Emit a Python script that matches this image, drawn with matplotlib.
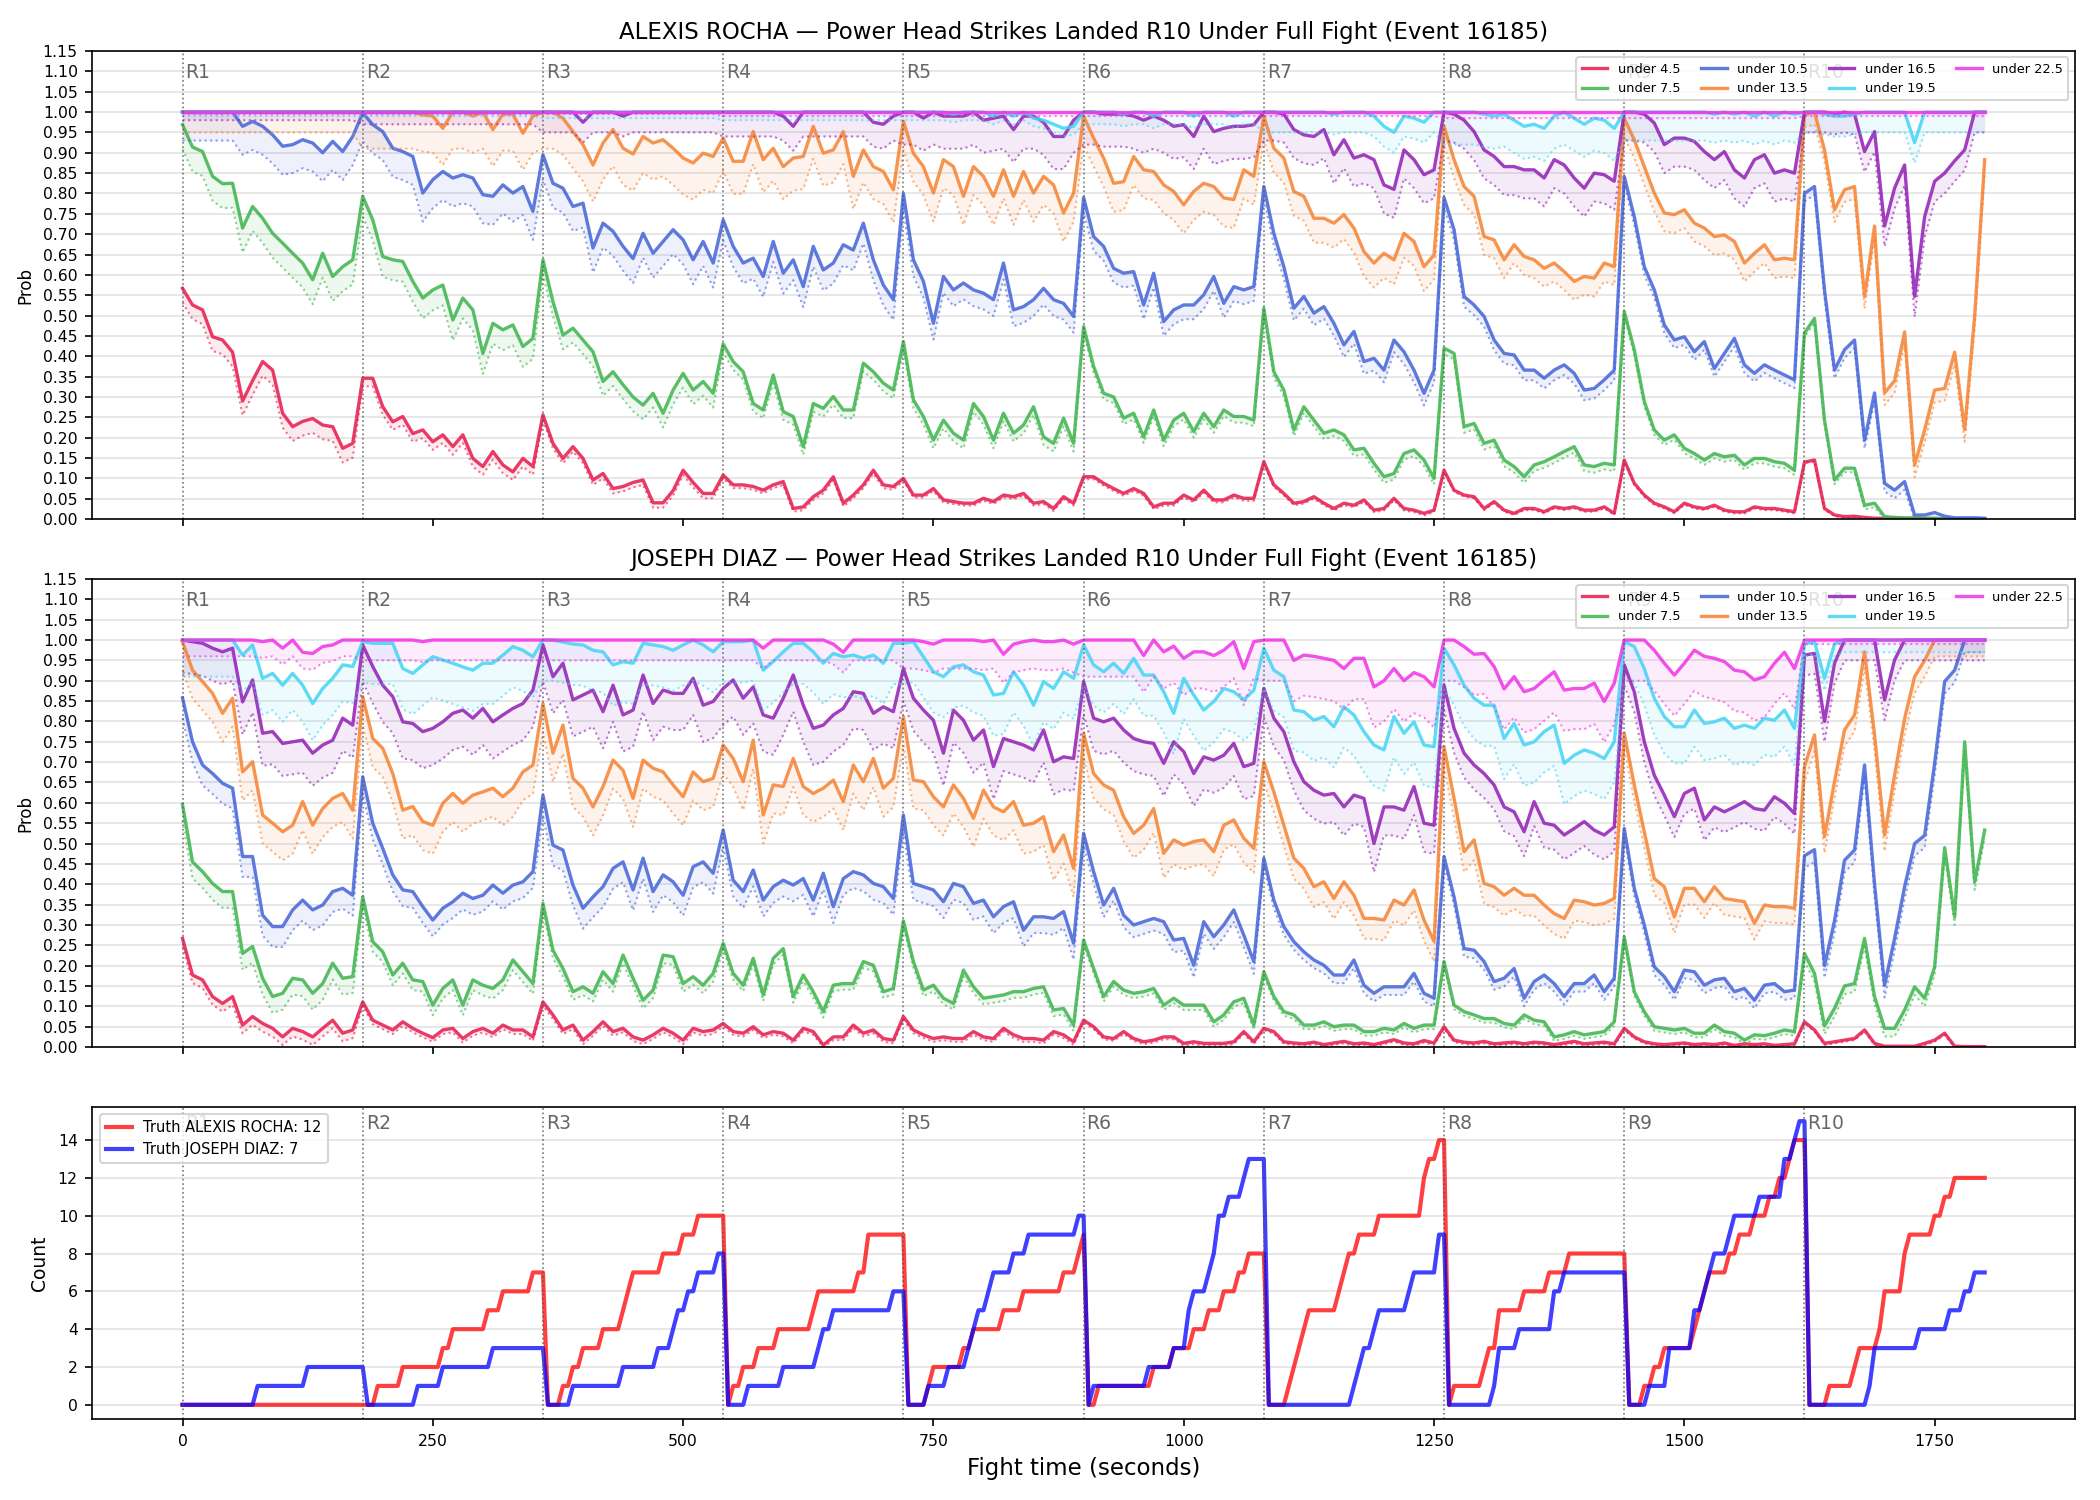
import numpy as np
import matplotlib
matplotlib.use("Agg")
import matplotlib.pyplot as plt

# ---------------- data ----------------
T = np.arange(0, 1801, 10)          # sample times (s)
ROUND_STARTS = [0, 180, 360, 540, 720, 900, 1080, 1260, 1440, 1620]
ROUND_LABELS = ["R1", "R2", "R3", "R4", "R5", "R6", "R7", "R8", "R9", "R10"]
LINE_NAMES = ["under 4.5", "under 7.5", "under 10.5", "under 13.5",
              "under 16.5", "under 19.5", "under 22.5"]
COLORS = ["#e6194b", "#3cb44b", "#4363d8", "#f58231", "#911eb4", "#42d4f4", "#f032e6"]

ONE = 1.0
# ---- ALEXIS ROCHA ----
ROCHA_U45 = [
    0.567, 0.526, 0.514, 0.448, 0.44, 0.41, 0.29, 0.34, 0.387, 0.366, 0.26, 0.227, 0.24, 0.247, 0.231, 0.227, 0.174, 0.186,
    0.346, 0.346, 0.276, 0.239, 0.252, 0.21, 0.219, 0.19, 0.207, 0.178, 0.207, 0.149, 0.129, 0.166, 0.133, 0.116, 0.149, 0.129,
    0.256, 0.186, 0.149, 0.178, 0.149, 0.096, 0.112, 0.075, 0.08, 0.09, 0.096, 0.04, 0.04, 0.07, 0.12, 0.09, 0.063, 0.063,
    0.108, 0.084, 0.084, 0.08, 0.071, 0.084, 0.092, 0.026, 0.03, 0.055, 0.071, 0.104, 0.039, 0.059, 0.084, 0.12, 0.084, 0.08,
    0.10, 0.059, 0.059, 0.075, 0.047, 0.043, 0.039, 0.039, 0.051, 0.043, 0.059, 0.055, 0.063, 0.039, 0.043, 0.026, 0.055, 0.039,
    0.104, 0.104, 0.088, 0.075, 0.063, 0.075, 0.063, 0.03, 0.039, 0.039, 0.059, 0.047, 0.071, 0.047, 0.047, 0.059, 0.051, 0.051,
    0.141, 0.084, 0.063, 0.039, 0.043, 0.055, 0.039, 0.026, 0.039, 0.034, 0.047, 0.022, 0.026, 0.051, 0.026, 0.022, 0.014, 0.022,
    0.12, 0.071, 0.059, 0.055, 0.026, 0.043, 0.022, 0.014, 0.026, 0.026, 0.018, 0.03, 0.026, 0.03, 0.022, 0.022, 0.03, 0.014,
    0.145, 0.088, 0.059, 0.039, 0.03, 0.018, 0.039, 0.03, 0.026, 0.034, 0.022, 0.018, 0.018, 0.03, 0.026, 0.026, 0.022, 0.018,
    0.14, 0.145, 0.026, 0.01, 0.006, 0.007, 0.004, 0.002, 0.002, 0.002, 0.001, 0.001, 0.001, 0.001, 0.0, 0.0, 0.0, 0.0,
    0.0]
ROCHA_U75 = [
    0.969, 0.914, 0.903, 0.842, 0.824, 0.825, 0.715, 0.768, 0.739, 0.702, 0.678, 0.653, 0.629, 0.588, 0.653, 0.596, 0.62, 0.637,
    0.793, 0.735, 0.645, 0.637, 0.633, 0.584, 0.543, 0.563, 0.575, 0.489, 0.543, 0.514, 0.407, 0.481, 0.465, 0.477, 0.424, 0.444,
    0.637, 0.534, 0.452, 0.469, 0.44, 0.411, 0.338, 0.362, 0.33, 0.30, 0.28, 0.309, 0.26, 0.317, 0.358, 0.317, 0.338, 0.309,
    0.43, 0.387, 0.362, 0.284, 0.268, 0.354, 0.264, 0.252, 0.178, 0.284, 0.272, 0.301, 0.268, 0.268, 0.383, 0.362, 0.334, 0.317,
    0.436, 0.293, 0.252, 0.194, 0.243, 0.211, 0.194, 0.284, 0.252, 0.194, 0.26, 0.211, 0.231, 0.276, 0.202, 0.186, 0.248, 0.186,
    0.473, 0.375, 0.309, 0.30, 0.248, 0.26, 0.202, 0.268, 0.194, 0.243, 0.26, 0.215, 0.26, 0.227, 0.268, 0.252, 0.252, 0.243,
    0.518, 0.362, 0.317, 0.219, 0.276, 0.243, 0.211, 0.219, 0.207, 0.17, 0.174, 0.137, 0.104, 0.112, 0.161, 0.17, 0.145, 0.10,
    0.42, 0.407, 0.227, 0.235, 0.186, 0.194, 0.145, 0.129, 0.104, 0.133, 0.141, 0.153, 0.166, 0.178, 0.133, 0.129, 0.137, 0.133,
    0.51, 0.416, 0.289, 0.219, 0.194, 0.207, 0.174, 0.161, 0.145, 0.161, 0.153, 0.157, 0.133, 0.149, 0.149, 0.141, 0.137, 0.12,
    0.457, 0.493, 0.243, 0.096, 0.125, 0.125, 0.034, 0.039, 0.006, 0.004, 0.003, 0.003, 0.002, 0.002, 0.001, 0.001, 0.001, 0.001,
    0.0]
ROCHA_U105 = [
    1.0, 1.0, 1.0, 1.0, 1.0, 1.0, 0.965, 0.977, 0.965, 0.944, 0.916, 0.92, 0.932, 0.924, 0.90, 0.928, 0.903, 0.94,
    0.998, 0.969, 0.952, 0.911, 0.903, 0.891, 0.801, 0.834, 0.854, 0.838, 0.846, 0.838, 0.797, 0.793, 0.821, 0.801, 0.817, 0.756,
    0.895, 0.825, 0.813, 0.768, 0.776, 0.666, 0.727, 0.707, 0.67, 0.64, 0.702, 0.653, 0.682, 0.711, 0.686, 0.637, 0.682, 0.629,
    0.735, 0.67, 0.629, 0.641, 0.596, 0.682, 0.604, 0.637, 0.571, 0.67, 0.612, 0.629, 0.674, 0.661, 0.727, 0.637, 0.575, 0.539,
    0.80, 0.637, 0.584, 0.481, 0.596, 0.563, 0.58, 0.563, 0.555, 0.539, 0.629, 0.514, 0.522, 0.539, 0.567, 0.539, 0.53, 0.498,
    0.79, 0.694, 0.67, 0.616, 0.604, 0.608, 0.526, 0.604, 0.485, 0.514, 0.526, 0.526, 0.551, 0.596, 0.53, 0.571, 0.563, 0.571,
    0.817, 0.702, 0.62, 0.518, 0.547, 0.506, 0.522, 0.481, 0.428, 0.461, 0.387, 0.395, 0.366, 0.44, 0.411, 0.366, 0.309, 0.366,
    0.79, 0.711, 0.547, 0.526, 0.498, 0.44, 0.407, 0.403, 0.366, 0.366, 0.346, 0.366, 0.379, 0.358, 0.317, 0.321, 0.342, 0.366,
    0.842, 0.743, 0.62, 0.563, 0.477, 0.44, 0.448, 0.411, 0.436, 0.37, 0.407, 0.444, 0.379, 0.358, 0.379, 0.366, 0.354, 0.342,
    0.80, 0.817, 0.563, 0.366, 0.416, 0.44, 0.194, 0.31, 0.088, 0.071, 0.092, 0.01, 0.01, 0.016, 0.007, 0.003, 0.003, 0.003,
    0.002]
ROCHA_U135 = [
    1.0, 1.0, 1.0, 1.0, 1.0, 1.0, 1.0, 1.0, 1.0, 1.0, 1.0, 1.0, 1.0, 1.0, 1.0, 1.0, 1.0, 1.0,
    1.0, 1.0, 1.0, 1.0, 1.0, 1.0, 0.993, 0.99, 0.96, 1.0, 1.0, 0.99, 1.0, 0.957, 0.995, 0.995, 0.948, 0.99,
    1.0, 1.0, 0.985, 0.952, 0.92, 0.87, 0.924, 0.957, 0.911, 0.897, 0.94, 0.924, 0.932, 0.911, 0.887, 0.875, 0.899, 0.891,
    0.936, 0.879, 0.879, 0.952, 0.883, 0.911, 0.866, 0.887, 0.891, 0.965, 0.899, 0.907, 0.952, 0.842, 0.907, 0.866, 0.854, 0.809,
    0.977, 0.899, 0.866, 0.801, 0.883, 0.866, 0.793, 0.866, 0.842, 0.793, 0.858, 0.793, 0.854, 0.801, 0.842, 0.821, 0.752, 0.801,
    0.99, 0.936, 0.887, 0.825, 0.829, 0.891, 0.858, 0.854, 0.821, 0.805, 0.772, 0.805, 0.825, 0.817, 0.789, 0.785, 0.858, 0.842,
    0.99, 0.911, 0.887, 0.805, 0.793, 0.739, 0.739, 0.727, 0.748, 0.715, 0.657, 0.629, 0.653, 0.637, 0.702, 0.682, 0.62, 0.649,
    0.965, 0.883, 0.817, 0.793, 0.694, 0.686, 0.637, 0.674, 0.645, 0.637, 0.616, 0.629, 0.608, 0.584, 0.596, 0.592, 0.629, 0.62,
    0.985, 0.932, 0.866, 0.801, 0.752, 0.748, 0.76, 0.727, 0.715, 0.694, 0.698, 0.682, 0.629, 0.653, 0.674, 0.637, 0.641, 0.637,
    0.993, 1.0, 0.907, 0.76, 0.809, 0.817, 0.547, 0.72, 0.31, 0.34, 0.46, 0.133, 0.219, 0.317, 0.321, 0.41, 0.22, 0.50,
    0.883]
ROCHA_U165 = [
    1.0, 1.0, 1.0, 1.0, 1.0, 1.0, 1.0, 1.0, 1.0, 1.0, 1.0, 1.0, 1.0, 1.0, 1.0, 1.0, 1.0, 1.0,
    1.0, 1.0, 1.0, 1.0, 1.0, 1.0, 1.0, 1.0, 1.0, 1.0, 1.0, 1.0, 1.0, 1.0, 1.0, 1.0, 1.0, 1.0,
    1.0, 1.0, 1.0, 1.0, 0.975, 1.0, 1.0, 1.0, 0.99, 1.0, 1.0, 1.0, 1.0, 1.0, 1.0, 1.0, 1.0, 1.0,
    1.0, 1.0, 1.0, 1.0, 1.0, 1.0, 0.99, 0.965, 1.0, 1.0, 1.0, 1.0, 1.0, 1.0, 1.0, 0.975, 0.97, 0.99,
    1.0, 1.0, 0.985, 1.0, 0.99, 0.99, 0.99, 1.0, 0.98, 0.985, 0.99, 0.957, 0.99, 0.99, 0.975, 0.94, 0.94, 0.98,
    1.0, 1.0, 0.995, 0.995, 0.995, 0.99, 0.98, 0.99, 0.98, 0.965, 0.969, 0.94, 0.99, 0.952, 0.96, 0.965, 0.965, 0.969,
    1.0, 1.0, 0.995, 0.957, 0.944, 0.94, 0.957, 0.895, 0.932, 0.887, 0.895, 0.883, 0.821, 0.81, 0.907, 0.883, 0.846, 0.858,
    1.0, 0.995, 0.98, 0.952, 0.907, 0.891, 0.866, 0.866, 0.858, 0.858, 0.838, 0.883, 0.87, 0.838, 0.813, 0.85, 0.846, 0.83,
    1.0, 1.0, 0.995, 0.973, 0.92, 0.936, 0.936, 0.928, 0.903, 0.883, 0.903, 0.858, 0.838, 0.883, 0.895, 0.85, 0.858, 0.85,
    1.0, 1.0, 1.0, 0.995, 1.0, 0.995, 0.903, 0.952, 0.72, 0.813, 0.87, 0.547, 0.743, 0.83, 0.85, 0.88, 0.907, 1.0,
    1.0]
ROCHA_U195 = [
    1.0, 1.0, 1.0, 1.0, 1.0, 1.0, 1.0, 1.0, 1.0, 1.0, 1.0, 1.0, 1.0, 1.0, 1.0, 1.0, 1.0, 1.0,
    1.0, 1.0, 1.0, 1.0, 1.0, 1.0, 1.0, 1.0, 1.0, 1.0, 1.0, 1.0, 1.0, 1.0, 1.0, 1.0, 1.0, 1.0,
    1.0, 1.0, 1.0, 1.0, 1.0, 1.0, 1.0, 1.0, 1.0, 1.0, 1.0, 1.0, 1.0, 1.0, 1.0, 1.0, 1.0, 1.0,
    1.0, 1.0, 1.0, 1.0, 1.0, 1.0, 1.0, 1.0, 1.0, 1.0, 1.0, 1.0, 1.0, 1.0, 1.0, 1.0, 1.0, 1.0,
    1.0, 1.0, 1.0, 1.0, 1.0, 0.995, 1.0, 1.0, 1.0, 0.99, 1.0, 0.99, 1.0, 0.985, 0.98, 0.97, 0.96, 0.965,
    1.0, 1.0, 1.0, 1.0, 0.995, 1.0, 1.0, 0.99, 1.0, 1.0, 1.0, 0.99, 1.0, 1.0, 1.0, 0.99, 1.0, 1.0,
    1.0, 1.0, 1.0, 1.0, 1.0, 1.0, 1.0, 0.995, 1.0, 1.0, 1.0, 0.99, 0.965, 0.95, 0.99, 0.985, 0.975, 1.0,
    1.0, 1.0, 1.0, 1.0, 0.995, 0.99, 0.995, 0.98, 0.965, 0.97, 0.96, 0.99, 1.0, 0.985, 0.97, 0.985, 0.98, 0.96,
    1.0, 1.0, 1.0, 1.0, 1.0, 1.0, 1.0, 1.0, 1.0, 0.995, 1.0, 0.995, 1.0, 0.99, 1.0, 0.99, 1.0, 0.995,
    1.0, 1.0, 0.995, 0.99, 0.99, 0.995, 1.0, 1.0, 1.0, 1.0, 1.0, 0.925, 1.0, 1.0, 1.0, 1.0, 1.0, 1.0,
    1.0]
ROCHA_U225 = [ONE] * 181

# lower-band depth per round (R1..R10)
ROCHA_GAPS = [
    [0.035, 0.02, 0.012, 0.008, 0.006, 0.006, 0.005, 0.004, 0.004, 0.003],
    [0.06, 0.05, 0.035, 0.02, 0.02, 0.015, 0.015, 0.015, 0.012, 0.01],
    [0.07, 0.07, 0.06, 0.05, 0.04, 0.035, 0.03, 0.025, 0.02, 0.02],
    [0.05, 0.09, 0.09, 0.08, 0.07, 0.07, 0.06, 0.045, 0.045, 0.03],
    [0.02, 0.03, 0.05, 0.06, 0.08, 0.08, 0.07, 0.07, 0.07, 0.05],
    [0.01, 0.01, 0.015, 0.02, 0.02, 0.03, 0.05, 0.08, 0.07, 0.05],
    [0.005, 0.005, 0.005, 0.01, 0.01, 0.01, 0.01, 0.015, 0.015, 0.01],
]

# ---- JOSEPH DIAZ ----
DIAZ_U45 = [
    0.267, 0.177, 0.165, 0.124, 0.107, 0.124, 0.054, 0.075, 0.058, 0.046, 0.025, 0.046, 0.038, 0.025, 0.046, 0.066, 0.034, 0.042,
    0.111, 0.066, 0.054, 0.042, 0.062, 0.046, 0.034, 0.023, 0.042, 0.046, 0.021, 0.038, 0.046, 0.034, 0.054, 0.042, 0.042, 0.025,
    0.111, 0.079, 0.042, 0.054, 0.017, 0.038, 0.062, 0.038, 0.046, 0.025, 0.017, 0.03, 0.046, 0.034, 0.017, 0.046, 0.038, 0.042,
    0.058, 0.038, 0.034, 0.05, 0.03, 0.038, 0.034, 0.017, 0.046, 0.038, 0.005, 0.025, 0.025, 0.054, 0.034, 0.042, 0.021, 0.017,
    0.075, 0.042, 0.03, 0.021, 0.025, 0.021, 0.021, 0.038, 0.025, 0.021, 0.046, 0.03, 0.021, 0.021, 0.017, 0.038, 0.03, 0.013,
    0.066, 0.05, 0.025, 0.021, 0.038, 0.021, 0.013, 0.017, 0.025, 0.025, 0.009, 0.013, 0.009, 0.009, 0.009, 0.013, 0.038, 0.013,
    0.046, 0.038, 0.013, 0.01, 0.008, 0.012, 0.006, 0.01, 0.014, 0.008, 0.01, 0.006, 0.012, 0.018, 0.01, 0.008, 0.016, 0.01,
    0.05, 0.017, 0.012, 0.01, 0.014, 0.008, 0.01, 0.012, 0.008, 0.012, 0.01, 0.006, 0.01, 0.014, 0.008, 0.01, 0.012, 0.008,
    0.046, 0.025, 0.013, 0.008, 0.006, 0.008, 0.01, 0.006, 0.008, 0.006, 0.01, 0.004, 0.008, 0.006, 0.008, 0.004, 0.006, 0.008,
    0.062, 0.042, 0.009, 0.013, 0.017, 0.021, 0.042, 0.009, 0.002, 0.002, 0.002, 0.002, 0.009, 0.017, 0.034, 0.002, 0.001, 0.001,
    0.001]
DIAZ_U75 = [
    0.596, 0.455, 0.431, 0.402, 0.382, 0.382, 0.23, 0.247, 0.169, 0.124, 0.132, 0.169, 0.165, 0.132, 0.156, 0.206, 0.169, 0.173,
    0.369, 0.259, 0.234, 0.177, 0.206, 0.165, 0.161, 0.103, 0.144, 0.165, 0.103, 0.165, 0.152, 0.144, 0.165, 0.214, 0.185, 0.156,
    0.353, 0.238, 0.193, 0.136, 0.148, 0.132, 0.185, 0.156, 0.226, 0.169, 0.115, 0.14, 0.226, 0.222, 0.156, 0.173, 0.152, 0.181,
    0.255, 0.181, 0.152, 0.218, 0.128, 0.218, 0.242, 0.124, 0.177, 0.136, 0.087, 0.152, 0.156, 0.156, 0.21, 0.201, 0.136, 0.144,
    0.31, 0.21, 0.14, 0.152, 0.12, 0.107, 0.189, 0.148, 0.12, 0.124, 0.128, 0.136, 0.136, 0.144, 0.148, 0.091, 0.095, 0.054,
    0.263, 0.193, 0.124, 0.161, 0.14, 0.132, 0.136, 0.144, 0.103, 0.12, 0.103, 0.103, 0.103, 0.062, 0.079, 0.111, 0.12, 0.054,
    0.185, 0.124, 0.087, 0.079, 0.054, 0.054, 0.062, 0.05, 0.054, 0.054, 0.038, 0.038, 0.046, 0.042, 0.058, 0.046, 0.054, 0.054,
    0.21, 0.103, 0.087, 0.079, 0.07, 0.07, 0.058, 0.054, 0.079, 0.066, 0.062, 0.025, 0.03, 0.038, 0.03, 0.034, 0.038, 0.062,
    0.271, 0.136, 0.087, 0.05, 0.046, 0.042, 0.046, 0.034, 0.034, 0.054, 0.038, 0.034, 0.017, 0.03, 0.028, 0.034, 0.042, 0.038,
    0.23, 0.181, 0.052, 0.095, 0.15, 0.156, 0.267, 0.124, 0.046, 0.046, 0.091, 0.148, 0.12, 0.197, 0.49, 0.32, 0.75, 0.406,
    0.533]
DIAZ_U105 = [
    0.858, 0.75, 0.693, 0.672, 0.648, 0.636, 0.468, 0.468, 0.324, 0.296, 0.296, 0.337, 0.361, 0.337, 0.349, 0.382, 0.39, 0.373,
    0.664, 0.55, 0.488, 0.423, 0.386, 0.382, 0.345, 0.312, 0.341, 0.357, 0.378, 0.365, 0.373, 0.398, 0.378, 0.398, 0.406, 0.431,
    0.619, 0.496, 0.484, 0.398, 0.341, 0.369, 0.394, 0.439, 0.455, 0.386, 0.464, 0.382, 0.423, 0.406, 0.373, 0.443, 0.455, 0.427,
    0.533, 0.41, 0.382, 0.435, 0.361, 0.394, 0.41, 0.398, 0.414, 0.361, 0.427, 0.345, 0.414, 0.431, 0.423, 0.402, 0.394, 0.365,
    0.57, 0.402, 0.394, 0.386, 0.357, 0.402, 0.394, 0.353, 0.361, 0.32, 0.345, 0.357, 0.287, 0.32, 0.32, 0.316, 0.333, 0.255,
    0.525, 0.431, 0.349, 0.39, 0.324, 0.30, 0.308, 0.316, 0.308, 0.263, 0.267, 0.201, 0.308, 0.271, 0.30, 0.337, 0.275, 0.21,
    0.464, 0.361, 0.296, 0.259, 0.234, 0.214, 0.201, 0.177, 0.177, 0.214, 0.152, 0.132, 0.148, 0.148, 0.148, 0.181, 0.132, 0.12,
    0.468, 0.369, 0.242, 0.238, 0.21, 0.161, 0.169, 0.193, 0.12, 0.161, 0.177, 0.156, 0.124, 0.156, 0.156, 0.177, 0.136, 0.169,
    0.537, 0.39, 0.30, 0.197, 0.173, 0.136, 0.189, 0.185, 0.152, 0.165, 0.169, 0.136, 0.144, 0.115, 0.152, 0.156, 0.136, 0.14,
    0.47, 0.485, 0.20, 0.31, 0.459, 0.484, 0.693, 0.40, 0.152, 0.267, 0.394, 0.5, 0.52, 0.697, 0.898, 0.926, 1.0, 1.0,
    1.0]
DIAZ_U135 = [
    0.996, 0.926, 0.898, 0.869, 0.82, 0.857, 0.676, 0.701, 0.57, 0.55, 0.529, 0.545, 0.603, 0.545, 0.586, 0.611, 0.623, 0.582,
    0.861, 0.758, 0.734, 0.672, 0.582, 0.591, 0.554, 0.545, 0.599, 0.623, 0.599, 0.619, 0.627, 0.636, 0.615, 0.636, 0.676, 0.693,
    0.844, 0.722, 0.791, 0.66, 0.636, 0.59, 0.64, 0.705, 0.68, 0.611, 0.705, 0.685, 0.676, 0.644, 0.615, 0.676, 0.652, 0.66,
    0.742, 0.709, 0.652, 0.754, 0.57, 0.644, 0.64, 0.709, 0.64, 0.623, 0.636, 0.656, 0.603, 0.693, 0.652, 0.709, 0.636, 0.66,
    0.812, 0.656, 0.652, 0.615, 0.59, 0.644, 0.611, 0.562, 0.631, 0.59, 0.578, 0.603, 0.545, 0.55, 0.566, 0.48, 0.521, 0.439,
    0.771, 0.672, 0.644, 0.631, 0.566, 0.525, 0.545, 0.586, 0.476, 0.509, 0.496, 0.505, 0.509, 0.48, 0.545, 0.558, 0.513, 0.488,
    0.701, 0.627, 0.545, 0.464, 0.439, 0.394, 0.406, 0.365, 0.406, 0.373, 0.316, 0.316, 0.312, 0.361, 0.349, 0.386, 0.312, 0.26,
    0.738, 0.611, 0.48, 0.509, 0.402, 0.394, 0.373, 0.39, 0.373, 0.373, 0.349, 0.328, 0.316, 0.361, 0.357, 0.349, 0.353, 0.365,
    0.771, 0.644, 0.529, 0.414, 0.394, 0.32, 0.39, 0.39, 0.357, 0.394, 0.365, 0.361, 0.357, 0.304, 0.349, 0.345, 0.345, 0.341,
    0.689, 0.767, 0.517, 0.652, 0.779, 0.816, 0.971, 0.767, 0.521, 0.668, 0.807, 0.91, 0.95, 1.0, 1.0, 1.0, 1.0, 1.0,
    1.0]
DIAZ_U165 = [
    1.0, 0.996, 0.992, 0.98, 0.971, 0.98, 0.848, 0.902, 0.771, 0.775, 0.746, 0.75, 0.754, 0.722, 0.742, 0.754, 0.808, 0.791,
    0.988, 0.935, 0.889, 0.861, 0.799, 0.795, 0.775, 0.783, 0.799, 0.82, 0.828, 0.808, 0.832, 0.799, 0.816, 0.832, 0.844, 0.877,
    0.988, 0.91, 0.943, 0.853, 0.865, 0.877, 0.824, 0.889, 0.816, 0.828, 0.914, 0.844, 0.877, 0.869, 0.869, 0.906, 0.84, 0.849,
    0.881, 0.902, 0.857, 0.885, 0.816, 0.808, 0.857, 0.914, 0.84, 0.783, 0.791, 0.816, 0.832, 0.873, 0.869, 0.82, 0.836, 0.824,
    0.93, 0.857, 0.828, 0.803, 0.722, 0.828, 0.803, 0.754, 0.779, 0.689, 0.758, 0.75, 0.742, 0.73, 0.779, 0.701, 0.713, 0.709,
    0.898, 0.808, 0.799, 0.808, 0.779, 0.758, 0.75, 0.746, 0.697, 0.75, 0.726, 0.672, 0.713, 0.705, 0.717, 0.746, 0.689, 0.697,
    0.881, 0.808, 0.775, 0.701, 0.652, 0.631, 0.619, 0.623, 0.59, 0.619, 0.611, 0.50, 0.59, 0.59, 0.582, 0.64, 0.55, 0.545,
    0.889, 0.783, 0.722, 0.693, 0.672, 0.644, 0.59, 0.578, 0.529, 0.603, 0.55, 0.545, 0.521, 0.537, 0.554, 0.533, 0.521, 0.541,
    0.939, 0.873, 0.75, 0.668, 0.619, 0.566, 0.623, 0.636, 0.558, 0.59, 0.578, 0.59, 0.603, 0.586, 0.582, 0.615, 0.599, 0.574,
    0.963, 0.967, 0.80, 0.943, 1.0, 1.0, 1.0, 1.0, 0.853, 0.951, 1.0, 1.0, 1.0, 1.0, 1.0, 1.0, 1.0, 1.0,
    1.0]
DIAZ_U195 = [
    1.0, 1.0, 1.0, 1.0, 1.0, 1.0, 0.963, 0.988, 0.906, 0.918, 0.889, 0.918, 0.889, 0.844, 0.881, 0.906, 0.939, 0.935,
    0.996, 0.992, 0.992, 0.992, 0.93, 0.918, 0.939, 0.959, 0.951, 0.943, 0.934, 0.926, 0.943, 0.943, 0.963, 0.984, 0.975, 0.959,
    1.0, 1.0, 0.995, 0.99, 0.988, 0.975, 0.971, 0.939, 0.947, 0.943, 0.992, 0.988, 0.984, 0.975, 0.988, 1.0, 0.988, 0.971,
    0.996, 0.996, 0.996, 1.0, 0.926, 0.947, 0.971, 0.992, 0.992, 0.971, 0.943, 0.967, 0.959, 0.963, 0.955, 0.963, 0.943, 0.992,
    0.992, 0.996, 0.959, 0.922, 0.91, 0.934, 0.939, 0.922, 0.914, 0.865, 0.869, 0.922, 0.889, 0.84, 0.898, 0.881, 0.922, 0.906,
    0.988, 0.939, 0.922, 0.943, 0.918, 0.955, 0.914, 0.914, 0.873, 0.82, 0.906, 0.865, 0.828, 0.849, 0.881, 0.873, 0.853, 0.877,
    0.98, 0.926, 0.91, 0.828, 0.824, 0.803, 0.812, 0.787, 0.836, 0.816, 0.775, 0.742, 0.73, 0.812, 0.771, 0.799, 0.742, 0.738,
    0.98, 0.939, 0.889, 0.857, 0.84, 0.84, 0.758, 0.795, 0.742, 0.75, 0.775, 0.791, 0.697, 0.717, 0.73, 0.722, 0.709, 0.75,
    0.996, 0.984, 0.93, 0.857, 0.812, 0.787, 0.787, 0.828, 0.795, 0.799, 0.808, 0.783, 0.791, 0.783, 0.808, 0.803, 0.828, 0.783,
    0.99, 0.996, 0.906, 0.99, 1.0, 1.0, 1.0, 1.0, 1.0, 1.0, 1.0, 1.0, 1.0, 1.0, 1.0, 1.0, 1.0, 1.0,
    1.0]
DIAZ_U225 = [
    1.0, 1.0, 1.0, 1.0, 1.0, 1.0, 1.0, 1.0, 0.996, 1.0, 0.98, 1.0, 0.97, 0.967, 0.984, 0.988, 1.0, 1.0,
    1.0, 1.0, 1.0, 1.0, 1.0, 1.0, 0.996, 1.0, 1.0, 1.0, 1.0, 1.0, 1.0, 1.0, 1.0, 1.0, 1.0, 1.0,
    1.0, 1.0, 1.0, 1.0, 1.0, 1.0, 1.0, 1.0, 1.0, 1.0, 1.0, 1.0, 1.0, 1.0, 1.0, 1.0, 1.0, 1.0,
    1.0, 1.0, 1.0, 1.0, 0.98, 1.0, 1.0, 1.0, 1.0, 1.0, 1.0, 0.99, 0.97, 1.0, 1.0, 1.0, 1.0, 1.0,
    1.0, 1.0, 0.996, 0.99, 1.0, 1.0, 1.0, 1.0, 0.996, 1.0, 0.965, 0.99, 0.996, 1.0, 0.996, 0.996, 1.0, 0.99,
    1.0, 1.0, 1.0, 1.0, 1.0, 1.0, 0.962, 1.0, 0.971, 0.985, 0.955, 0.971, 0.971, 0.962, 0.975, 0.996, 0.93, 0.996,
    1.0, 1.0, 1.0, 0.95, 0.963, 0.96, 0.955, 0.95, 0.93, 0.955, 0.955, 0.885, 0.9, 0.93, 0.9, 0.92, 0.91, 0.885,
    1.0, 1.0, 0.984, 0.965, 0.967, 0.935, 0.88, 0.91, 0.873, 0.881, 0.902, 0.922, 0.877, 0.881, 0.881, 0.894, 0.849, 0.894,
    1.0, 1.0, 1.0, 0.975, 0.943, 0.914, 0.943, 0.975, 0.96, 0.955, 0.947, 0.926, 0.922, 0.902, 0.91, 0.943, 0.97, 0.93,
    1.0, 1.0, 1.0, 1.0, 1.0, 1.0, 1.0, 1.0, 1.0, 1.0, 1.0, 1.0, 1.0, 1.0, 1.0, 1.0, 1.0, 1.0,
    1.0]
DIAZ_GAPS = [
    [0.02, 0.01, 0.01, 0.008, 0.008, 0.006, 0.005, 0.005, 0.004, 0.004],
    [0.04, 0.025, 0.02, 0.015, 0.015, 0.012, 0.01, 0.01, 0.01, 0.02],
    [0.05, 0.04, 0.05, 0.04, 0.04, 0.03, 0.02, 0.02, 0.02, 0.03],
    [0.07, 0.07, 0.07, 0.07, 0.07, 0.06, 0.05, 0.05, 0.04, 0.04],
    [0.08, 0.09, 0.09, 0.09, 0.08, 0.08, 0.07, 0.06, 0.05, 0.05],
    [0.09, 0.1, 0.1, 0.1, 0.1, 0.1, 0.1, 0.1, 0.09, 0.03],
    [0.04, 0.05, 0.05, 0.05, 0.07, 0.09, 0.1, 0.1, 0.1, 0.01],
]

# ---- truth counts: times (s) of each landed power head strike ----
ROCHA_EVENTS = [195, 217, 257, 267, 305, 317, 348,
                380, 390, 398, 420, 440, 445, 447, 480, 496, 515,
                550, 556, 574, 595, 630, 634, 674, 682, 685,
                745, 750, 779, 788, 820, 840, 879, 895, 897,
                912, 968, 990, 1008, 1023, 1038, 1053, 1062,
                1102, 1108, 1112, 1120, 1125, 1155, 1160, 1165, 1172, 1192, 1236, 1239, 1245, 1253,
                1268, 1298, 1301, 1312, 1315, 1338, 1362, 1383,
                1460, 1468, 1477, 1506, 1512, 1518, 1522, 1543, 1555, 1568, 1585, 1592, 1603, 1606,
                1645, 1668, 1672, 1693, 1697, 1700, 1716, 1720, 1724, 1748, 1757, 1768]
DIAZ_EVENTS = [73, 123,
               232, 258, 308,
               388, 438, 473, 488, 493, 505, 512, 534,
               562, 598, 632, 638, 648, 708,
               743, 762, 781, 788, 795, 803, 808, 828, 845, 894,
               908, 965, 988, 1002, 1004, 1007, 1025, 1030, 1033, 1035, 1043, 1058, 1062,
               1167, 1172, 1176, 1187, 1191, 1222, 1227, 1252, 1254,
               1308, 1311, 1314, 1333, 1366, 1369, 1378,
               1461, 1482, 1484, 1507, 1509, 1518, 1523, 1528, 1545, 1548, 1572, 1596, 1599, 1608, 1612,
               1682, 1686, 1690, 1733, 1763, 1778, 1786]
COUNT_T = np.arange(0, 1801, 5)

ROCHA_NAME = "ALEXIS ROCHA"
DIAZ_NAME = "JOSEPH DIAZ"
TITLE_TAIL = "Power Head Strikes Landed R10 Under Full Fight (Event 16185)"


def fix_len(v):
    v = list(v)
    if len(v) > len(T):
        v = v[:len(T)]
    while len(v) < len(T):
        v.append(v[-1])
    return np.array(v, dtype=float)


def round_index(t):
    return np.minimum(np.asarray(t) // 180, 9).astype(int)


def per_round_counts(events, tgrid):
    # a sample exactly on a round boundary still belongs to the round that ends there
    ev = np.array(events, dtype=float)
    out = []
    for t in tgrid:
        r = 0 if t <= 0 else min(int((t - 1) // 180), 9)
        start = ROUND_STARTS[r]
        out.append(int(np.sum((ev > start) & (ev <= t))))
    return np.array(out)


# ---------------- figure ----------------
fig = plt.figure(figsize=(14, 10), dpi=150)
gs = fig.add_gridspec(3, 1, height_ratios=[3, 3, 2], left=0.044, right=0.988,
                      top=0.966, bottom=0.054, hspace=0.144)
ax1 = fig.add_subplot(gs[0])
ax2 = fig.add_subplot(gs[1], sharex=ax1)
ax3 = fig.add_subplot(gs[2], sharex=ax1)

ridx = round_index(T)


def prob_panel(ax, series, gaps, fighter):
    for vals, g, c, name in zip(series, gaps, COLORS, LINE_NAMES):
        up = fix_len(vals)
        lo = np.clip(up - np.array(g)[ridx], 0, 1)
        ax.fill_between(T, lo, up, color=c, alpha=0.09, lw=0)
        ax.plot(T, lo, color=c, ls=":", lw=1.0, alpha=0.6)
        ax.plot(T, up, color=c, lw=1.6, alpha=0.85, label=name)
    ax.set_ylim(0, 1.15)
    ticks = np.round(np.arange(0, 1.151, 0.05), 2)
    ax.set_yticks(ticks)
    ax.set_yticklabels([f"{v:.2f}" for v in ticks])
    ax.grid(axis="y", color="#e3e3e3", lw=0.8)
    ax.set_axisbelow(True)
    for s, lab in zip(ROUND_STARTS, ROUND_LABELS):
        ax.axvline(s, color="#555555", ls=":", lw=0.8, alpha=0.8)
        ax.text(s + 3, 1.097, lab, color="#666666", fontsize=9, va="center", ha="left")
    ax.set_ylabel("Prob", fontsize=8)
    ax.set_title(f"{fighter} \u2014 {TITLE_TAIL}", fontsize=11)
    ax.tick_params(labelsize=7.5)
    ax.legend(loc="upper right", ncol=4, fontsize=6.2, framealpha=0.8,
              handlelength=2.0, columnspacing=1.6)
    plt.setp(ax.get_xticklabels(), visible=False)


prob_panel(ax1, [ROCHA_U45, ROCHA_U75, ROCHA_U105, ROCHA_U135, ROCHA_U165, ROCHA_U195, ROCHA_U225],
           ROCHA_GAPS, ROCHA_NAME)
prob_panel(ax2, [DIAZ_U45, DIAZ_U75, DIAZ_U105, DIAZ_U135, DIAZ_U165, DIAZ_U195, DIAZ_U225],
           DIAZ_GAPS, DIAZ_NAME)

cr = per_round_counts(ROCHA_EVENTS, COUNT_T)
cd = per_round_counts(DIAZ_EVENTS, COUNT_T)
ax3.plot(COUNT_T, cr, color="red", alpha=0.75, lw=2, label=f"Truth {ROCHA_NAME}: {cr[-1]}")
ax3.plot(COUNT_T, cd, color="blue", alpha=0.75, lw=2, label=f"Truth {DIAZ_NAME}: {cd[-1]}")
ax3.grid(axis="y", color="#e3e3e3", lw=0.8)
ax3.set_axisbelow(True)
ymax = ax3.get_ylim()[1]
for s, lab in zip(ROUND_STARTS, ROUND_LABELS):
    ax3.axvline(s, color="#555555", ls=":", lw=0.8, alpha=0.8)
    ax3.text(s + 3, ymax * 0.944, lab, color="#666666", fontsize=9, va="center", ha="left")
ax3.set_ylabel("Count", fontsize=9)
ax3.set_xlabel("Fight time (seconds)", fontsize=11)
ax3.tick_params(labelsize=7.5)
ax3.legend(loc="upper left", fontsize=7, handlelength=1.8)

fig.savefig("out.png", dpi=150)
